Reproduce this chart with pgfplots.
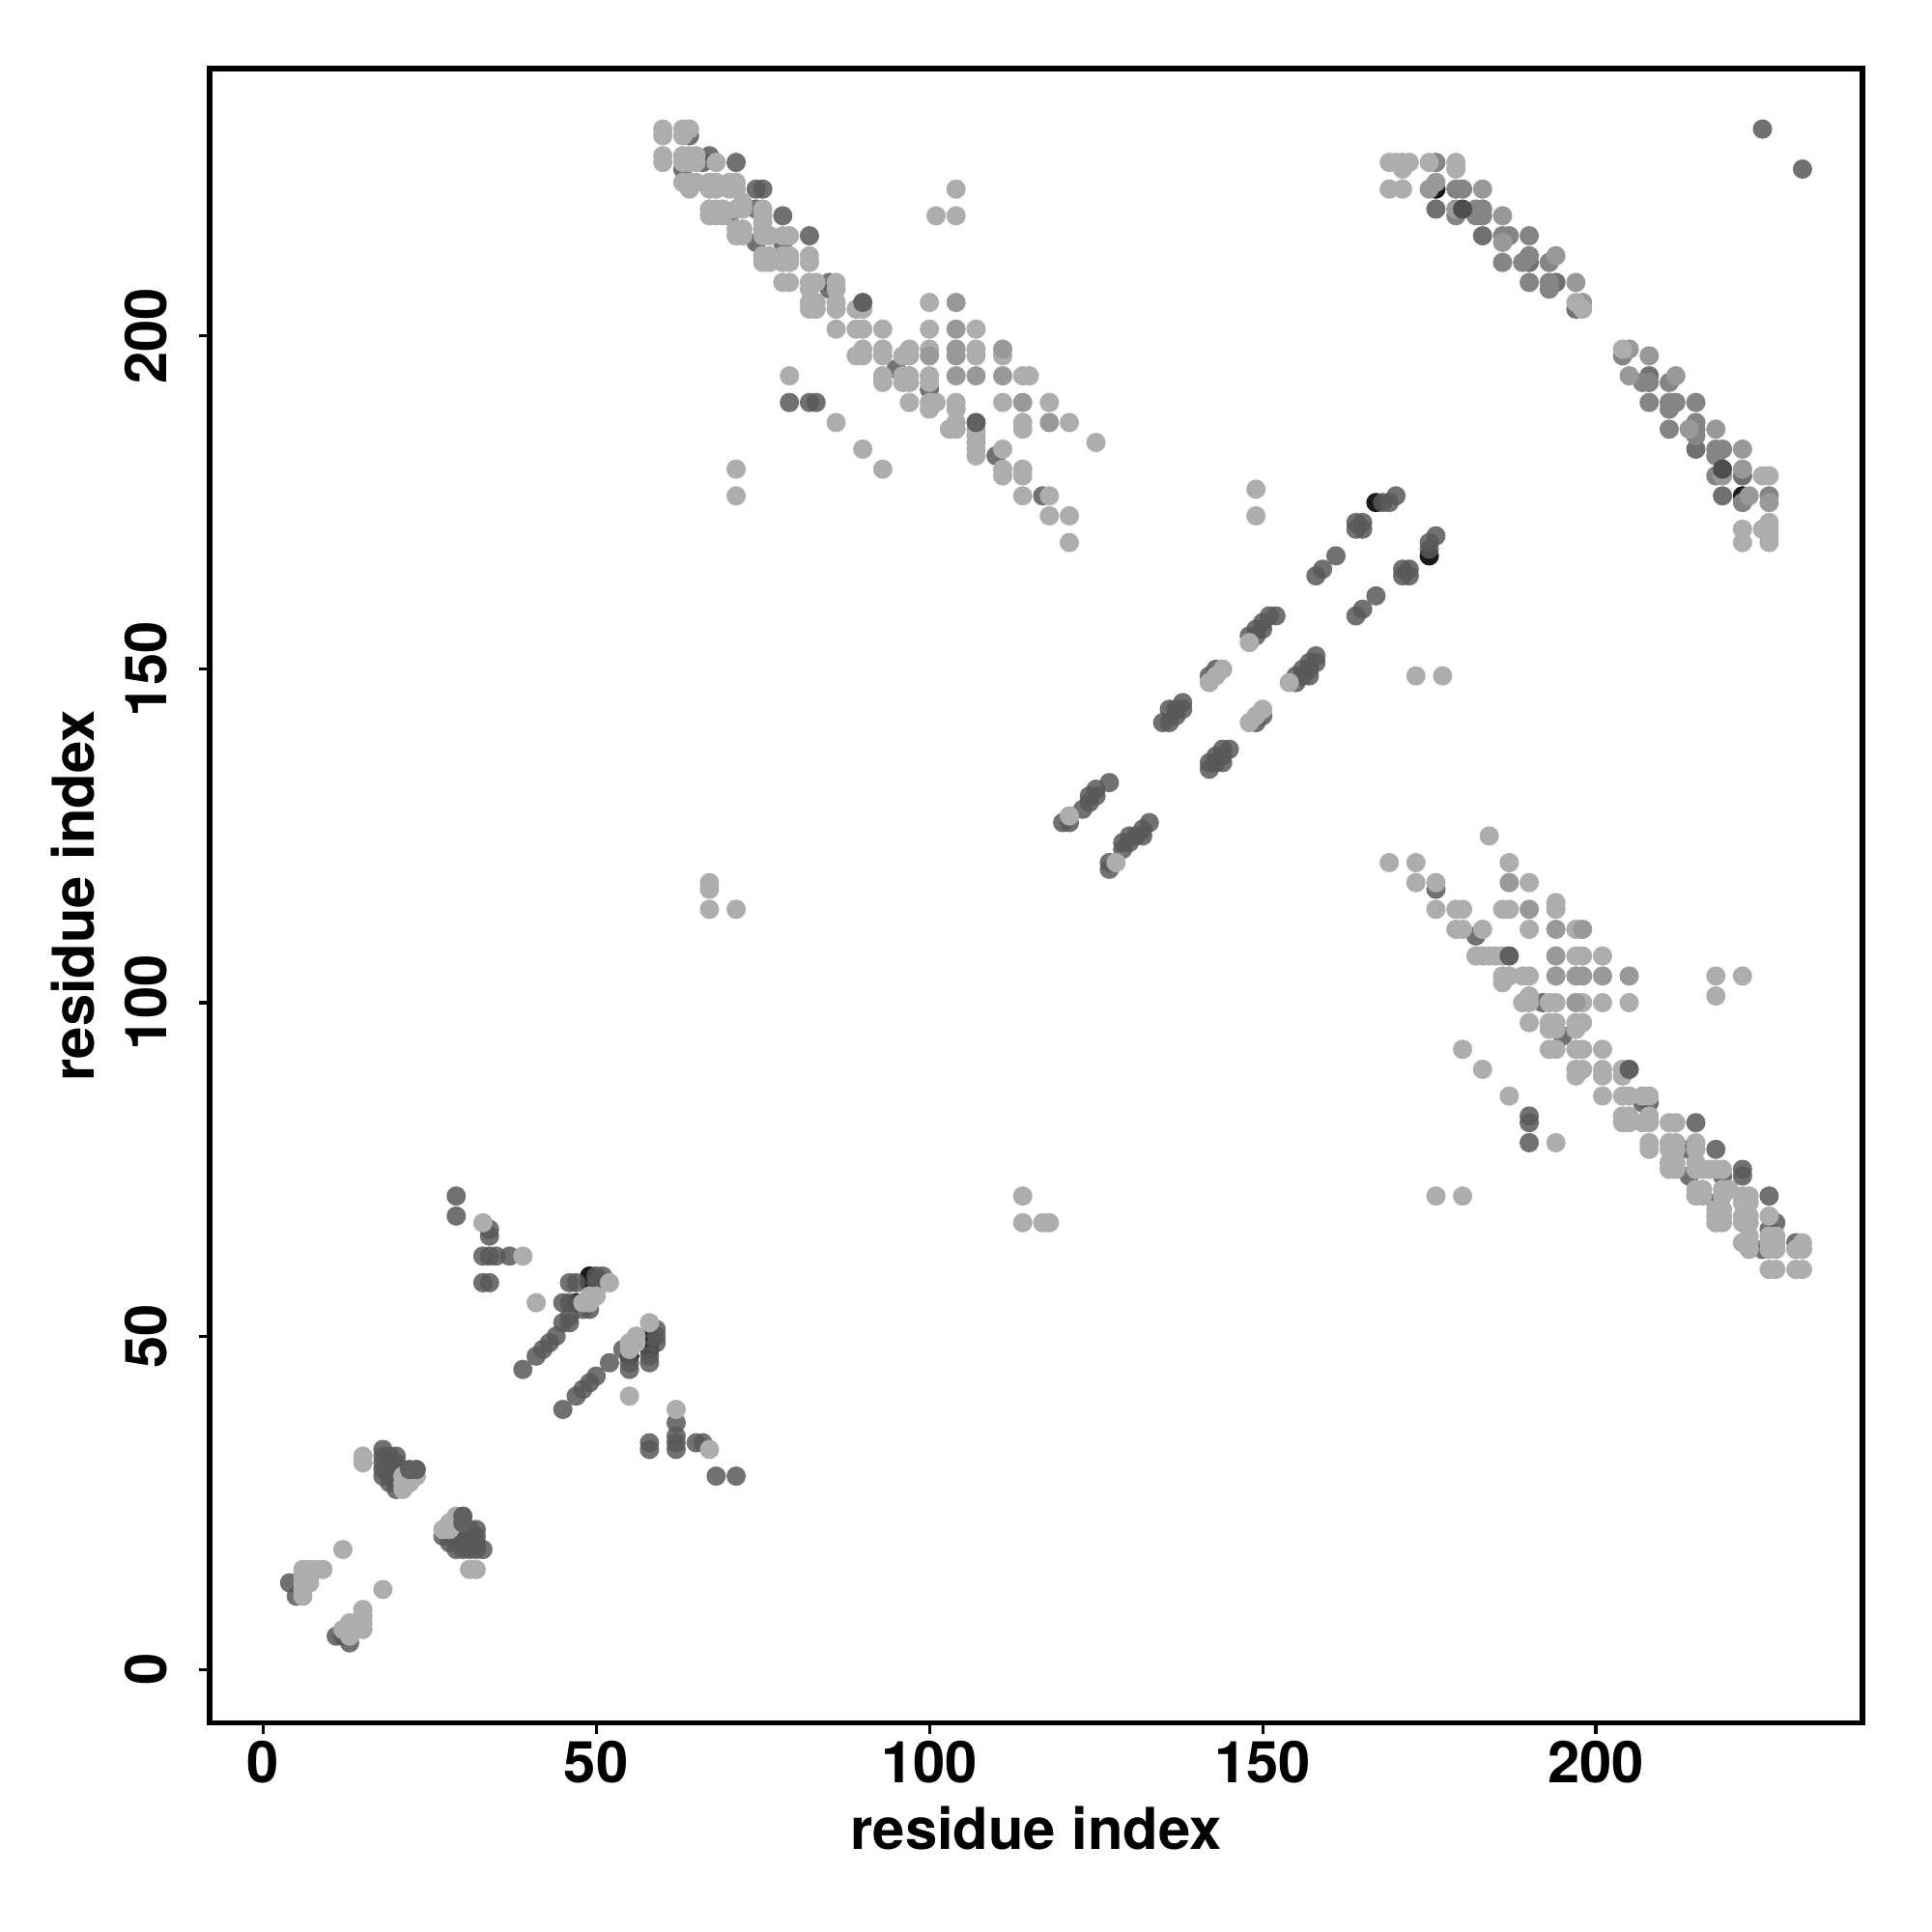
\documentclass[border=0pt]{standalone}
\usepackage{fontspec}
\setmainfont{TeX Gyre Heros}
\usepackage{pgfplots}
\usepackage{pgfplotstable}
\pgfplotsset{compat=1.18}
\pgfplotstableread[row sep=\\]{a b\\
60 231\\60 230\\63 231\\64 231\\63 230\\60 227\\60 226\\63 227\\64 227\\65 227\\63 226\\64 226\\65 226\\68 226\\63 223\\64 223\\65 223\\64 222\\67 223\\68 223\\67 222\\68 222\\70 223\\71 223\\70 222\\71 222\\67 219\\68 219\\69 219\\67 218\\68 218\\69 218\\72 220\\72 219\\71 219\\75 219\\75 218\\75 217\\71 216\\72 216\\71 215\\72 215\\75 216\\75 215\\76 215\\78 215\\79 215\\75 212\\76 212\\75 211\\76 211\\78 212\\79 212\\78 211\\79 211\\82 212\\82 211\\78 208\\79 208\\82 208\\83 208\\82 207\\86 208\\86 207\\82 205\\83 205\\82 204\\83 204\\86 205\\86 204\\89 204\\90 204\\100 205\\86 201\\89 201\\90 201\\93 201\\100 201\\107 201\\90 198\\89 197\\90 197\\93 198\\93 197\\96 197\\97 198\\97 197\\100 198\\107 198\\107 197\\111 197\\79 194\\93 194\\93 193\\96 194\\96 193\\97 194\\97 193\\100 194\\100 193\\114 194\\115 194\\97 190\\100 190\\101 190\\104 190\\111 190\\118 190\\100 189\\104 189\\86 187\\103 186\\104 187\\104 186\\107 186\\114 187\\114 186\\121 187\\125 184\\107 185\\107 184\\107 183\\107 182\\90 183\\111 183\\111 180\\111 179\\114 180\\114 179\\71 180\\93 180\\71 176\\114 176\\118 176\\118 173\\121 173\\121 169\\104 222\\101 218\\104 218\\
67 118\\67 117\\67 114\\71 114\\149 177\\149 173\\
}\bandlight
\pgfplotstableread[row sep=\\]{a b\\
104 205\\104 201\\100 197\\104 198\\104 197\\111 198\\104 194\\107 194\\111 194\\114 190\\118 187\\
}\bandmid
\pgfplotstableread[row sep=\\]{a b\\
64 230\\67 227\\66 226\\63 225\\71 226\\74 222\\75 222\\74 219\\70 218\\78 218\\74 214\\78 214\\82 215\\85 208\\85 207\\95 195\\100 192\\79 190\\82 190\\83 190\\110 182\\117 176\\
}\banddark
\pgfplotstableread[row sep=\\]{a b\\
90 205\\107 187\\
}\bandtop
\pgfplotstableread[row sep=\\]{a b\\
169 226\\170 226\\171 226\\172 226\\175 226\\179 226\\171 225\\179 225\\169 222\\171 222\\197 205\\198 204\\204 198\\225 179\\226 179\\226 172\\226 171\\225 171\\222 171\\226 170\\222 169\\226 169\\
}\rbA
\pgfplotstableread[row sep=\\]{a b\\
175 222\\176 223\\183 222\\179 219\\186 218\\186 214\\194 212\\197 208\\198 205\\205 198\\205 194\\212 194\\208 197\\214 186\\218 186\\222 183\\222 180\\219 179\\223 176\\226 175\\
}\rbB
\pgfplotstableread[row sep=\\]{a b\\
176 226\\179 222\\180 222\\182 219\\183 219\\179 218\\182 218\\183 218\\186 215\\187 215\\190 215\\190 212\\186 211\\189 211\\193 211\\190 208\\193 208\\193 207\\204 197\\207 193\\208 193\\211 193\\212 190\\208 190\\211 190\\215 190\\211 189\\215 187\\211 186\\215 186\\218 183\\219 183\\218 182\\218 179\\226 176\\222 175\\215 185\\
}\rbC
\pgfplotstableread[row sep=\\]{a b\\
225 231\\231 225\\176 219\\183 215\\190 211\\194 208\\197 204\\208 194\\215 183\\219 176\\222 179\\
}\rbD
\pgfplotstableread[row sep=\\]{a b\\
180 219\\219 180\\
}\rbE
\pgfplotstableread[row sep=\\]{a b\\
176 222\\222 176\\167 175\\175 167\\49 59\\49 58\\47 55\\58 50\\58 49\\58 48\\55 47\\
}\blackpts
\pgfplotstableread[row sep=\\]{a b\\
170 176\\168 175\\169 175\\164 172\\165 172\\164 171\\165 171\\161 167\\159 165\\158 164\\176 170\\175 169\\175 168\\171 165\\172 165\\171 164\\172 164\\167 161\\165 159\\164 158\\152 158\\151 158\\150 157\\149 156\\150 156\\149 155\\148 155\\158 152\\158 151\\157 151\\156 150\\157 150\\157 149\\155 149\\155 148\\156 149\\143 150\\142 149\\138 145\\137 144\\138 144\\136 144\\137 143\\135 142\\136 142\\145 138\\144 138\\143 137\\144 137\\142 136\\143 136\\142 135\\144 136\\150 143\\149 142\\127 133\\125 132\\125 131\\124 131\\124 130\\123 129\\120 127\\121 127\\133 127\\132 126\\130 125\\131 125\\132 125\\130 124\\129 124\\129 123\\127 121\\127 120\\
29 71\\29 68\\34 66\\34 65\\33 62\\34 62\\35 62\\37 62\\33 58\\34 58\\46 58\\47 58\\50 59\\51 59\\50 58\\51 58\\45 55\\46 55\\48 54\\49 54\\46 53\\45 52\\46 52\\44 50\\43 49\\42 48\\41 47\\39 45\\59 51\\59 50\\59 49\\58 47\\52 46\\54 48\\55 46\\55 45\\58 46\\50 44\\49 43\\48 42\\47 41\\45 39\\62 37\\62 35\\62 34\\62 33\\58 34\\58 33\\65 34\\66 34\\68 29\\71 29\\
18 33\\18 32\\18 31\\18 30\\18 29\\19 32\\19 31\\19 30\\19 29\\19 28\\20 32\\20 31\\20 30\\20 29\\20 28\\20 27\\21 30\\27 20\\28 20\\28 19\\29 21\\29 20\\29 19\\29 18\\30 21\\30 20\\30 19\\30 18\\31 21\\31 20\\31 19\\31 18\\32 21\\32 20\\32 19\\32 18\\33 18\\
4 13\\5 11\\11 5\\12 5\\13 4\\
}\darkpts
\pgfplotstableread[row sep=\\]{a b\\
148 154\\144 150\\143 149\\142 148\\154 148\\150 144\\149 143\\148 142\\121 128\\128 121\\
33 67\\39 62\\41 55\\52 58\\48 55\\49 55\\49 56\\50 56\\58 52\\56 50\\55 49\\55 48\\56 49\\55 41\\62 39\\67 33\\
15 32\\15 31\\21 29\\21 28\\21 27\\22 29\\22 28\\23 29\\27 21\\28 22\\28 21\\29 23\\29 22\\31 15\\32 15\\
12 18\\18 12\\6 15\\7 15\\8 15\\9 15\\6 14\\7 14\\6 13\\7 13\\6 12\\6 11\\15 9\\15 8\\15 7\\13 7\\13 6\\12 6\\14 6\\14 7\\15 6\\13 5\\
}\lightpts
\pgfplotstableread[row sep=\\]{a b\\
23 30\\22 30\\30 23\\30 22\\
}\toppts
\definecolor{cA}{HTML}{ADADAD}
\definecolor{cB}{HTML}{999999}
\definecolor{cC}{HTML}{858585}
\definecolor{cD}{HTML}{707070}
\definecolor{cE}{HTML}{4D4D4D}
\definecolor{cK}{HTML}{1A1A1A}
\definecolor{cT}{HTML}{606060}
\definecolor{cO}{HTML}{585858}
\pgfplotsset{
  pt/.style={only marks, mark=*, mark size=2.85pt, color=#1, mark options={fill=#1, draw opacity=0}},
  dk/.style={only marks, mark=*, mark size=2.85pt, color=#1, mark options={fill=#1, draw opacity=0, fill opacity=0.85}},
}
\begin{document}
\begin{tikzpicture}
\path[use as bounding box] (-2.17cm,-2.165cm) rectangle (17.83cm,17.835cm);
\begin{axis}[
  at={(0,0)}, anchor=south west,
  scale only axis, width=17.11cm, height=17.12cm,
  xmin=-8, xmax=240, ymin=-8, ymax=240,
  axis line style={line width=1.7pt},
  tick style={line width=0.9pt, black},
  major tick length=0.11cm,
  tick align=outside,
  xtick pos=bottom, ytick pos=left,
  xtick={0,50,100,150,200}, ytick={0,50,100,150,200},
  /pgf/number format/assume math mode=true,
  tick label style={font=\fontsize{17}{20}\selectfont\bfseries},
  xticklabel style={yshift=0.05cm},
  yticklabel style={rotate=90, anchor=south, yshift=0.21cm},
  label style={font=\fontsize{17}{20}\selectfont\bfseries},
  xlabel={residue index}, ylabel={residue index},
  xlabel style={at={(axis description cs:0.5,0)}, anchor=center, yshift=-1.09cm},
  ylabel style={at={(axis description cs:0,0.5)}, anchor=center, rotate=0, yshift=1.41cm},
  clip=false,
]
\addplot[pt=cK] table[x=a,y=b] {\blackpts};
\addplot[pt=cD] table[x=a,y=b] {\rbD};
\addplot[pt=cC] table[x=a,y=b] {\rbC};
\addplot[pt=cB] table[x=a,y=b] {\rbB};
\addplot[pt=cA] table[x=a,y=b] {\rbA};
\addplot[pt=cE] table[x=a,y=b] {\rbE};
\addplot[dk=cO] table[x=a,y=b] {\darkpts};
\addplot[dk=cO] table[x=a,y=b] {\banddark};
\addplot[dk=cO] table[x=b,y=a] {\banddark};
\addplot[pt=cA] table[x=a,y=b] {\bandlight};
\addplot[pt=cA] table[x=b,y=a] {\bandlight};
\addplot[pt=cB] table[x=a,y=b] {\bandmid};
\addplot[pt=cB] table[x=b,y=a] {\bandmid};
\addplot[pt=cA] table[x=a,y=b] {\lightpts};
\addplot[pt=cT] table[x=a,y=b] {\toppts};
\addplot[pt=cT] table[x=a,y=b] {\bandtop};
\addplot[pt=cT] table[x=b,y=a] {\bandtop};
\end{axis}
\end{tikzpicture}
\end{document}
